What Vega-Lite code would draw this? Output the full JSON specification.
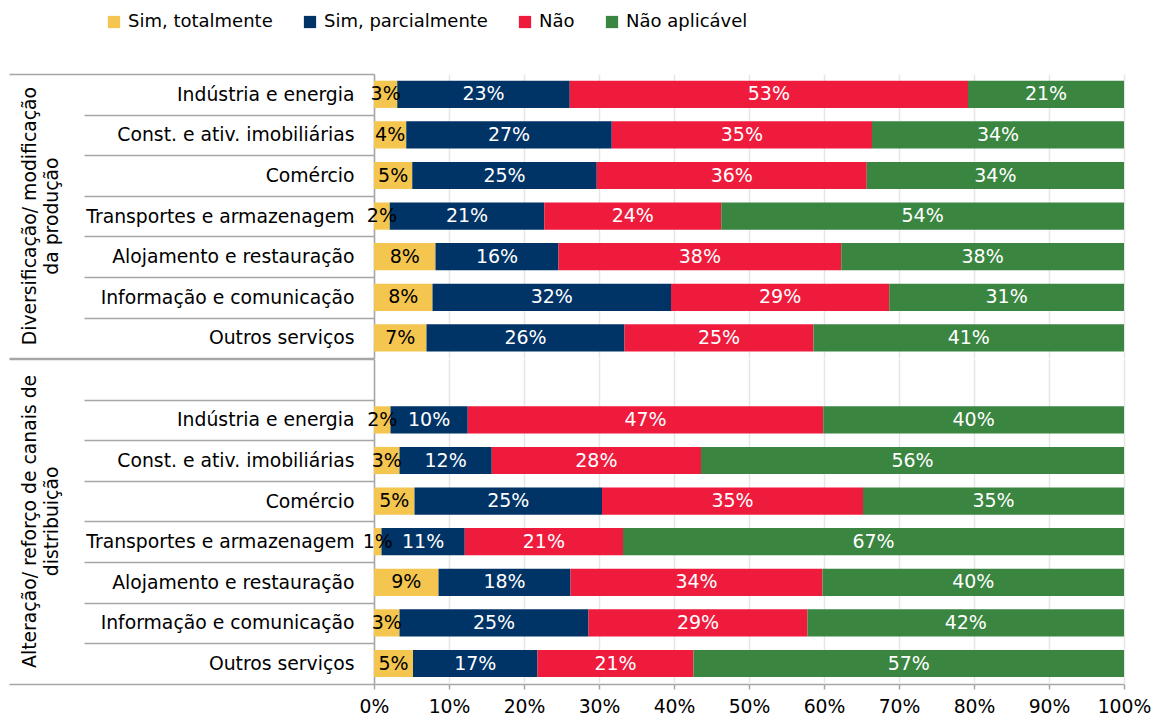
{
  "$schema": "https://vega.github.io/schema/vega-lite/v6.json",
  "padding": {"left": 8, "top": 13, "right": 10, "bottom": 5},
  "background": "white",
  "bounds": "flush",
  "spacing": 0,
  "datasets": {
    "rows": [
      {"g": "Diversificação/ modificação|da produção", "k": "a1|Indústria e energia", "c": "Sim, totalmente", "v": 0.031},
      {"g": "Diversificação/ modificação|da produção", "k": "a1|Indústria e energia", "c": "Sim, parcialmente", "v": 0.230},
      {"g": "Diversificação/ modificação|da produção", "k": "a1|Indústria e energia", "c": "Não", "v": 0.531},
      {"g": "Diversificação/ modificação|da produção", "k": "a1|Indústria e energia", "c": "Não aplicável", "v": 0.208},
      {"g": "Diversificação/ modificação|da produção", "k": "a2|Const. e ativ. imobiliárias", "c": "Sim, totalmente", "v": 0.043},
      {"g": "Diversificação/ modificação|da produção", "k": "a2|Const. e ativ. imobiliárias", "c": "Sim, parcialmente", "v": 0.274},
      {"g": "Diversificação/ modificação|da produção", "k": "a2|Const. e ativ. imobiliárias", "c": "Não", "v": 0.347},
      {"g": "Diversificação/ modificação|da produção", "k": "a2|Const. e ativ. imobiliárias", "c": "Não aplicável", "v": 0.336},
      {"g": "Diversificação/ modificação|da produção", "k": "a3|Comércio", "c": "Sim, totalmente", "v": 0.051},
      {"g": "Diversificação/ modificação|da produção", "k": "a3|Comércio", "c": "Sim, parcialmente", "v": 0.246},
      {"g": "Diversificação/ modificação|da produção", "k": "a3|Comércio", "c": "Não", "v": 0.360},
      {"g": "Diversificação/ modificação|da produção", "k": "a3|Comércio", "c": "Não aplicável", "v": 0.343},
      {"g": "Diversificação/ modificação|da produção", "k": "a4|Transportes e armazenagem", "c": "Sim, totalmente", "v": 0.021},
      {"g": "Diversificação/ modificação|da produção", "k": "a4|Transportes e armazenagem", "c": "Sim, parcialmente", "v": 0.206},
      {"g": "Diversificação/ modificação|da produção", "k": "a4|Transportes e armazenagem", "c": "Não", "v": 0.236},
      {"g": "Diversificação/ modificação|da produção", "k": "a4|Transportes e armazenagem", "c": "Não aplicável", "v": 0.537},
      {"g": "Diversificação/ modificação|da produção", "k": "a5|Alojamento e restauração", "c": "Sim, totalmente", "v": 0.082},
      {"g": "Diversificação/ modificação|da produção", "k": "a5|Alojamento e restauração", "c": "Sim, parcialmente", "v": 0.164},
      {"g": "Diversificação/ modificação|da produção", "k": "a5|Alojamento e restauração", "c": "Não", "v": 0.377},
      {"g": "Diversificação/ modificação|da produção", "k": "a5|Alojamento e restauração", "c": "Não aplicável", "v": 0.377},
      {"g": "Diversificação/ modificação|da produção", "k": "a6|Informação e comunicação", "c": "Sim, totalmente", "v": 0.078},
      {"g": "Diversificação/ modificação|da produção", "k": "a6|Informação e comunicação", "c": "Sim, parcialmente", "v": 0.318},
      {"g": "Diversificação/ modificação|da produção", "k": "a6|Informação e comunicação", "c": "Não", "v": 0.291},
      {"g": "Diversificação/ modificação|da produção", "k": "a6|Informação e comunicação", "c": "Não aplicável", "v": 0.313},
      {"g": "Diversificação/ modificação|da produção", "k": "a7|Outros serviços", "c": "Sim, totalmente", "v": 0.070},
      {"g": "Diversificação/ modificação|da produção", "k": "a7|Outros serviços", "c": "Sim, parcialmente", "v": 0.264},
      {"g": "Diversificação/ modificação|da produção", "k": "a7|Outros serviços", "c": "Não", "v": 0.252},
      {"g": "Diversificação/ modificação|da produção", "k": "a7|Outros serviços", "c": "Não aplicável", "v": 0.414},
      {"g": "Alteração/ reforço de canais de|distribuição", "k": "b0|", "c": null, "v": null},
      {"g": "Alteração/ reforço de canais de|distribuição", "k": "b1|Indústria e energia", "c": "Sim, totalmente", "v": 0.022},
      {"g": "Alteração/ reforço de canais de|distribuição", "k": "b1|Indústria e energia", "c": "Sim, parcialmente", "v": 0.103},
      {"g": "Alteração/ reforço de canais de|distribuição", "k": "b1|Indústria e energia", "c": "Não", "v": 0.474},
      {"g": "Alteração/ reforço de canais de|distribuição", "k": "b1|Indústria e energia", "c": "Não aplicável", "v": 0.401},
      {"g": "Alteração/ reforço de canais de|distribuição", "k": "b2|Const. e ativ. imobiliárias", "c": "Sim, totalmente", "v": 0.034},
      {"g": "Alteração/ reforço de canais de|distribuição", "k": "b2|Const. e ativ. imobiliárias", "c": "Sim, parcialmente", "v": 0.123},
      {"g": "Alteração/ reforço de canais de|distribuição", "k": "b2|Const. e ativ. imobiliárias", "c": "Não", "v": 0.279},
      {"g": "Alteração/ reforço de canais de|distribuição", "k": "b2|Const. e ativ. imobiliárias", "c": "Não aplicável", "v": 0.564},
      {"g": "Alteração/ reforço de canais de|distribuição", "k": "b3|Comércio", "c": "Sim, totalmente", "v": 0.054},
      {"g": "Alteração/ reforço de canais de|distribuição", "k": "b3|Comércio", "c": "Sim, parcialmente", "v": 0.250},
      {"g": "Alteração/ reforço de canais de|distribuição", "k": "b3|Comércio", "c": "Não", "v": 0.348},
      {"g": "Alteração/ reforço de canais de|distribuição", "k": "b3|Comércio", "c": "Não aplicável", "v": 0.348},
      {"g": "Alteração/ reforço de canais de|distribuição", "k": "b4|Transportes e armazenagem", "c": "Sim, totalmente", "v": 0.010},
      {"g": "Alteração/ reforço de canais de|distribuição", "k": "b4|Transportes e armazenagem", "c": "Sim, parcialmente", "v": 0.111},
      {"g": "Alteração/ reforço de canais de|distribuição", "k": "b4|Transportes e armazenagem", "c": "Não", "v": 0.211},
      {"g": "Alteração/ reforço de canais de|distribuição", "k": "b4|Transportes e armazenagem", "c": "Não aplicável", "v": 0.668},
      {"g": "Alteração/ reforço de canais de|distribuição", "k": "b5|Alojamento e restauração", "c": "Sim, totalmente", "v": 0.086},
      {"g": "Alteração/ reforço de canais de|distribuição", "k": "b5|Alojamento e restauração", "c": "Sim, parcialmente", "v": 0.176},
      {"g": "Alteração/ reforço de canais de|distribuição", "k": "b5|Alojamento e restauração", "c": "Não", "v": 0.336},
      {"g": "Alteração/ reforço de canais de|distribuição", "k": "b5|Alojamento e restauração", "c": "Não aplicável", "v": 0.402},
      {"g": "Alteração/ reforço de canais de|distribuição", "k": "b6|Informação e comunicação", "c": "Sim, totalmente", "v": 0.034},
      {"g": "Alteração/ reforço de canais de|distribuição", "k": "b6|Informação e comunicação", "c": "Sim, parcialmente", "v": 0.252},
      {"g": "Alteração/ reforço de canais de|distribuição", "k": "b6|Informação e comunicação", "c": "Não", "v": 0.292},
      {"g": "Alteração/ reforço de canais de|distribuição", "k": "b6|Informação e comunicação", "c": "Não aplicável", "v": 0.422},
      {"g": "Alteração/ reforço de canais de|distribuição", "k": "b7|Outros serviços", "c": "Sim, totalmente", "v": 0.052},
      {"g": "Alteração/ reforço de canais de|distribuição", "k": "b7|Outros serviços", "c": "Sim, parcialmente", "v": 0.166},
      {"g": "Alteração/ reforço de canais de|distribuição", "k": "b7|Outros serviços", "c": "Não", "v": 0.208},
      {"g": "Alteração/ reforço de canais de|distribuição", "k": "b7|Outros serviços", "c": "Não aplicável", "v": 0.574}
    ]
  },
  "data": {"name": "rows"},
  "facet": {
    "row": {
      "field": "g",
      "type": "nominal",
      "sort": ["Diversificação/ modificação|da produção", "Alteração/ reforço de canais de|distribuição"],
      "title": null,
      "header": {
        "labelAngle": -90,
        "labelOrient": "left",
        "labelExpr": "split(datum.value, '|')",
        "labelFont": "DejaVu Sans",
        "labelFontSize": 18.8,
        "labelColor": "#000000",
        "labelPadding": 303,
        "labelLineHeight": 22,
        "labelAlign": "center"
      }
    }
  },
  "resolve": {"scale": {"y": "independent"}},
  "spec": {
    "width": 750,
    "height": {"step": 40.6},
    "encoding": {
      "y": {
        "field": "k",
        "type": "nominal",
        "title": null,
        "scale": {"paddingInner": 0, "paddingOuter": 0},
        "axis": {
          "labelExpr": "split(datum.value, '|')[1]",
          "tickBand": "extent",
          "tickSize": {"condition": {"test": "datum.index == 1 || datum.index == -1", "value": 365}, "value": 290},
          "labelPadding": {"condition": {"test": "datum.index == 1 || datum.index == -1", "value": -345}, "value": -270},
          "tickColor": "#a6a6a6",
          "tickWidth": 1.5,
          "domainColor": "#a6a6a6",
          "domainWidth": 1.5,
          "labelFont": "DejaVu Sans",
          "labelFontSize": 18.8,
          "labelColor": "#000000",
          "labelLimit": 400,
          "grid": false
        }
      }
    },
    "layer": [
      {
        "transform": [
          {"filter": "datum.c != null"},
          {"calculate": "indexof(['Sim, totalmente', 'Sim, parcialmente', 'Não', 'Não aplicável'], datum.c)", "as": "o"}
        ],
        "mark": {"type": "bar", "height": {"band": 0.67}},
        "encoding": {
          "x": {
            "field": "v",
            "type": "quantitative",
            "stack": "normalize",
            "scale": {"domain": [0, 1]},
            "axis": {
              "title": null,
              "values": [0, 0.1, 0.2, 0.3, 0.4, 0.5, 0.6, 0.7, 0.8, 0.9, 1],
              "format": ".0%",
              "grid": true,
              "gridColor": "#e6e6e6",
              "gridWidth": 1.5,
              "domainColor": "#a6a6a6",
              "domainWidth": 1.5,
              "tickColor": "#a6a6a6",
              "tickWidth": 1.5,
              "tickSize": 5,
              "labelPadding": 8,
              "labelFont": "DejaVu Sans",
              "labelFontSize": 18.8,
              "labelColor": "#000000",
              "labelFlush": false
            }
          },
          "order": {"field": "o", "type": "quantitative"},
          "color": {
            "field": "c",
            "type": "nominal",
            "sort": ["Sim, totalmente", "Sim, parcialmente", "Não", "Não aplicável"],
            "scale": {
              "domain": ["Sim, totalmente", "Sim, parcialmente", "Não", "Não aplicável"],
              "range": ["#F4C54F", "#003366", "#EE1B3C", "#3A8540"]
            },
            "legend": {
              "title": null,
              "orient": "none",
              "direction": "horizontal",
              "legendX": -269,
              "legendY": -61,
              "symbolType": "square",
              "symbolSize": 150,
              "symbolStrokeWidth": 0,
              "labelFont": "DejaVu Sans",
              "labelFontSize": 18,
              "labelColor": "#000000",
              "labelOffset": 5,
              "labelLimit": 400,
              "columnPadding": 28
            }
          }
        }
      },
      {
        "transform": [
          {"filter": "datum.c != null"},
          {"calculate": "indexof(['Sim, totalmente', 'Sim, parcialmente', 'Não', 'Não aplicável'], datum.c)", "as": "o"}
        ],
        "mark": {"type": "text", "align": "center", "baseline": "middle", "font": "DejaVu Sans", "fontSize": 19},
        "encoding": {
          "x": {"field": "v", "type": "quantitative", "stack": "normalize", "bandPosition": 0.5},
          "detail": {"field": "c", "type": "nominal"},
          "order": {"field": "o", "type": "quantitative"},
          "text": {"field": "v", "type": "quantitative", "format": ".0%"},
          "color": {"condition": {"test": "datum.c == 'Sim, totalmente'", "value": "#000000"}, "value": "#ffffff"}
        }
      },
      {
        "transform": [{"filter": "datum.c == null"}],
        "mark": {"type": "text"},
        "encoding": {"text": {"value": ""}}
      }
    ]
  },
  "config": {
    "font": "DejaVu Sans",
    "view": {"stroke": null}
  }
}
